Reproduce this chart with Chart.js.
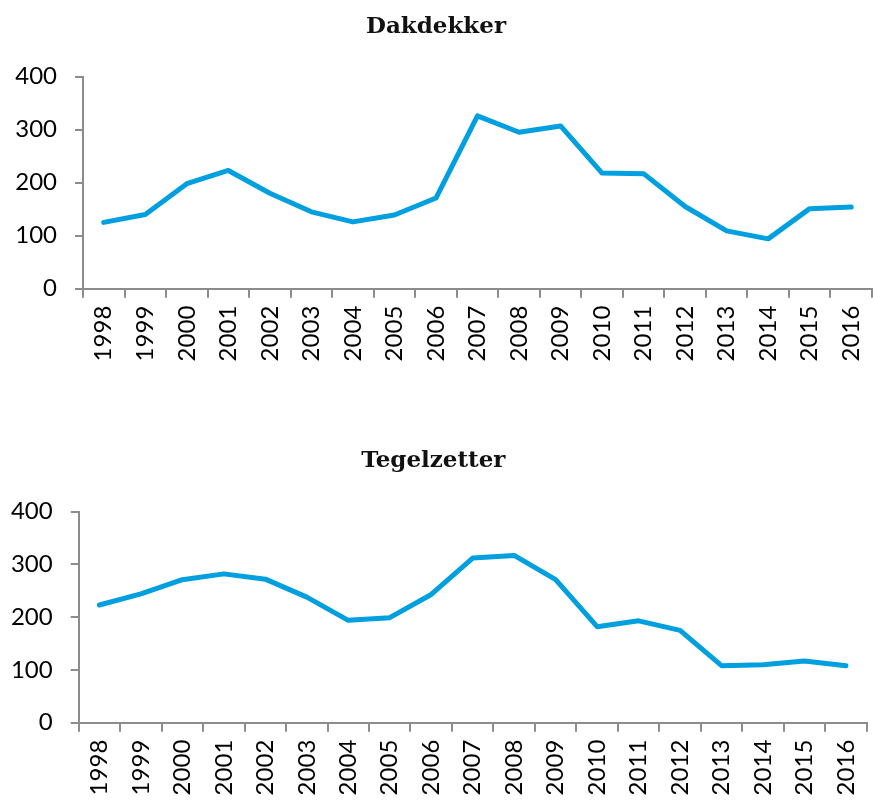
<!DOCTYPE html>
<html>
<head>
<meta charset="utf-8">
<script src="https://cdn.jsdelivr.net/npm/chart.js@4"></script>
<style>
  body { margin: 0; background: #fff; }
  .wrap { position: absolute; left: 0; }
</style>
</head>
<body>
<div class="wrap" style="top:0"><canvas id="chartTop" width="873" height="430"></canvas></div>
<div class="wrap" style="top:430px"><canvas id="chartBottom" width="873" height="373"></canvas></div>
<script>
// data
const years = ["1998", "1999", "2000", "2001", "2002", "2003", "2004", "2005", "2006", "2007",
  "2008", "2009", "2010", "2011", "2012", "2013", "2014", "2015", "2016"];
const dakdekker = [125, 140, 198, 223, 180, 145, 126, 139, 171, 326, 295, 307, 218, 217, 155, 109, 94, 151, 154];
const tegelzetter = [223, 244, 271, 282, 272, 238, 194, 199, 243, 312, 317, 271, 182, 193, 175, 108, 110, 117, 108];
const yMin = 0;
const yMax = 400;
const yStep = 100;

const lineColor = "#009fdf";
const axisColor = "#8c8c8c";
const tickFont = "Lato, 'Liberation Sans', sans-serif";

function makeChart(id, title, values, opts) {
  const ctx = document.getElementById(id).getContext("2d");
  return new Chart(ctx, {
    type: "line",
    data: {
      labels: years,
      datasets: [
        {
          label: title,
          data: values,
          borderColor: lineColor,
          borderWidth: 5,
          pointRadius: 0,
          tension: 0,
          borderCapStyle: "round",
          borderJoinStyle: "round",
          fill: false,
        },
      ],
    },
    options: {
      responsive: false,
      animation: false,
      layout: {
        padding: { left: 0, right: opts.padRight, top: 0, bottom: 0 },
      },
      plugins: {
        legend: { display: false },
        tooltip: { enabled: false },
        title: {
          display: true,
          text: title,
          color: "#111",
          font: { family: "'DejaVu Serif', serif", size: 23, weight: "bold" },
          padding: { top: opts.titleTop, bottom: opts.titleBottom },
        },
      },
      scales: {
        x: {
          offset: true,
          grid: {
            offset: true,
            drawOnChartArea: false,
            color: axisColor,
            tickLength: 9,
            lineWidth: 2,
          },
          border: { color: axisColor, width: 2 },
          ticks: {
            minRotation: 90,
            maxRotation: 90,
            autoSkip: false,
            padding: 8,
            color: "#000",
            font: { family: tickFont, size: 24 },
          },
          afterFit: (scale) => {
            scale.height = opts.xHeight;
            // keep the plot reaching the right edge like the original
            scale.paddingLeft = 0;
            scale.paddingRight = 0;
          },
        },
        y: {
          min: yMin,
          max: yMax,
          grid: {
            drawOnChartArea: false,
            color: axisColor,
            tickLength: 8,
            lineWidth: 2,
          },
          border: { color: axisColor, width: 2 },
          ticks: {
            stepSize: yStep,
            padding: 18,
            color: "#000",
            font: { family: tickFont, size: 24 },
          },
          afterFit: (scale) => {
            scale.width = opts.yWidth;
          },
        },
      },
    },
  });
}

makeChart("chartTop", "Dakdekker", dakdekker, {
  padRight: 1,
  titleTop: 13,
  titleBottom: 36,
  xHeight: 141.3,
  yWidth: 83,
});

makeChart("chartBottom", "Tegelzetter", tegelzetter, {
  padRight: 6.3,
  titleTop: 17,
  titleBottom: 37,
  xHeight: 80.3,
  yWidth: 78.7,
});
</script>
</body>
</html>
